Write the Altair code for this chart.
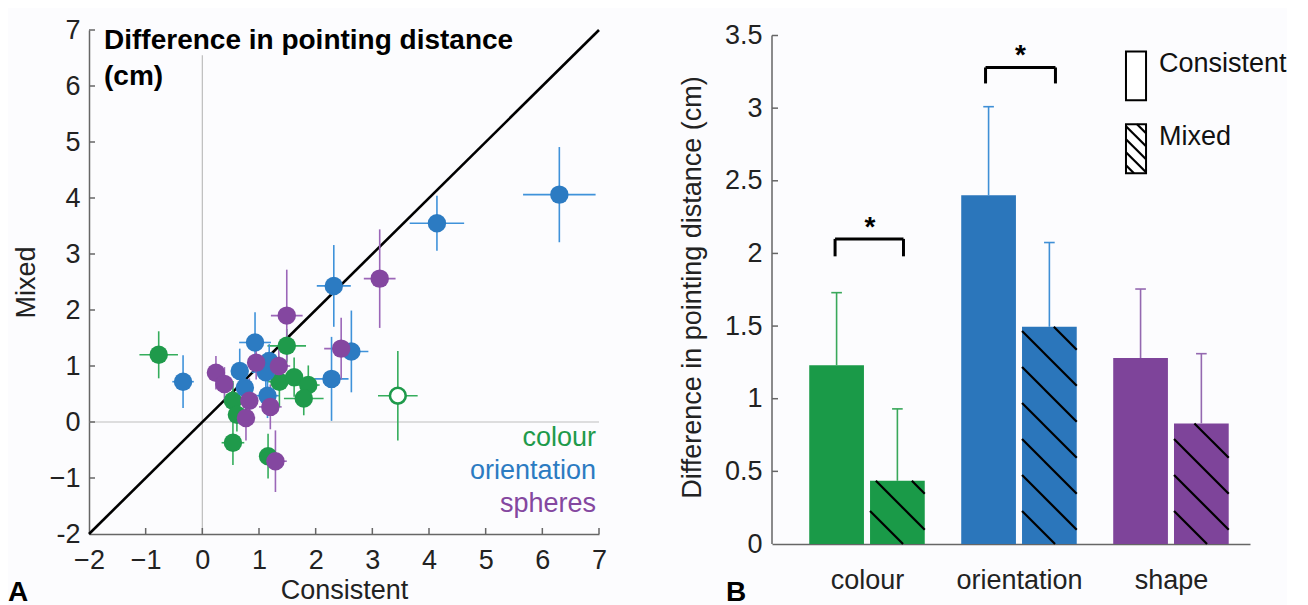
import altair as alt
import pandas as pd

# ---------------- Panel A data (Consistent vs Mixed, with error bars) -------------
colour_x = [-0.77, 0.54, 0.61, 0.54, 1.36, 1.49, 1.62, 1.87, 1.79, 1.16, 3.45]
colour_y = [1.20, 0.38, 0.13, -0.37, 0.72, 1.36, 0.80, 0.66, 0.42, -0.61, 0.47]
colour_xerr = [0.34, 0.15, 0.12, 0.20, 0.20, 0.34, 0.15, 0.20, 0.35, 0.15, 0.35]
colour_yerr = [0.42, 0.35, 0.30, 0.40, 0.45, 0.30, 0.35, 0.35, 0.30, 0.40, 0.80]
colour_filled = [True, True, True, True, True, True, True, True, True, True, False]

orient_x = [-0.34, 0.66, 0.75, 0.93, 1.18, 1.12, 1.15, 2.28, 2.32, 2.63, 4.14, 6.30]
orient_y = [0.72, 0.91, 0.61, 1.42, 1.09, 0.89, 0.47, 0.77, 2.43, 1.26, 3.55, 4.06]
orient_xerr = [0.19, 0.15, 0.15, 0.28, 0.20, 0.25, 0.20, 0.30, 0.30, 0.30, 0.48, 0.64]
orient_yerr = [0.47, 0.40, 0.35, 0.54, 0.30, 0.35, 0.40, 0.75, 0.73, 0.73, 0.49, 0.85]

sphere_x = [0.24, 0.39, 0.77, 0.83, 0.95, 1.35, 1.20, 1.49, 1.29, 2.45, 3.13]
sphere_y = [0.88, 0.68, 0.07, 0.38, 1.06, 1.00, 0.27, 1.90, -0.70, 1.31, 2.56]
sphere_xerr = [0.12, 0.12, 0.15, 0.15, 0.15, 0.20, 0.20, 0.28, 0.20, 0.30, 0.28]
sphere_yerr = [0.30, 0.30, 0.40, 0.40, 0.30, 0.35, 0.40, 0.82, 0.55, 0.55, 0.88]

groups_a = ["colour", "orientation", "spheres"]
colors_a = ["#1f9a4b", "#2c7bc2", "#8447a0"]
errcolors_a = ["#35ad5c", "#3f92da", "#9b66b8"]

# ---------------- Panel B data (bar means and errors) -------------
categories = ["colour", "orientation", "shape"]
consistent_mean = [1.23, 2.40, 1.28]
consistent_err = [0.50, 0.61, 0.475]
mixed_mean = [0.435, 1.495, 0.83]
mixed_err = [0.495, 0.58, 0.48]
bar_colors = ["#1a9a48", "#2b76bb", "#7e449a"]
bar_errcolors = ["#39a85a", "#3f8fd6", "#9468b0"]

FONT = "Liberation Sans"
FS = 27

# ---------------- Panel A -------------
W_A, H_A = 510, 504
xs_a = alt.Scale(domain=[-2, 7], nice=False, zero=False)
ys_a = alt.Scale(domain=[-2, 7], nice=False, zero=False)

AX_XA = alt.Axis(
    title="Consistent", values=list(range(-2, 8)), ticks=False, grid=False,
    labelFontSize=FS, titleFontSize=FS, titleFontWeight="normal", labelFont=FONT, titleFont=FONT,
    labelColor="#222", titleColor="#222", domainColor="#666", domainWidth=1.5,
    labelPadding=13, titlePadding=4, labelFlush=False)
AX_YA = alt.Axis(
    title="Mixed", values=list(range(-2, 8)), ticks=False, grid=False,
    labelExpr="datum.value == -2 ? '-2' : datum.label",
    labelFontSize=FS, titleFontSize=FS, titleFontWeight="normal", labelFont=FONT, titleFont=FONT,
    labelColor="#222", titleColor="#222", domainColor="#666", domainWidth=1.5,
    labelPadding=9, titlePadding=9, labelFlush=False)


def XA(f):
    return alt.X(f, type="quantitative", scale=xs_a, axis=AX_XA)


def YA(f):
    return alt.Y(f, type="quantitative", scale=ys_a, axis=AX_YA)


rows = []
for g, xs, ys, xe, ye in [
    ("colour", colour_x, colour_y, colour_xerr, colour_yerr),
    ("orientation", orient_x, orient_y, orient_xerr, orient_yerr),
    ("spheres", sphere_x, sphere_y, sphere_xerr, sphere_yerr),
]:
    for i in range(len(xs)):
        filled = colour_filled[i] if g == "colour" else True
        rows.append(dict(group=g, x=xs[i], y=ys[i], xlo=xs[i] - xe[i], xhi=xs[i] + xe[i],
                         ylo=ys[i] - ye[i], yhi=ys[i] + ye[i], filled=filled))
df_a = pd.DataFrame(rows)

ref_h = alt.Chart(pd.DataFrame({"x0": [-2], "x1": [7], "y": [0]})).mark_rule(
    color="#bdbdbd", strokeWidth=1.2).encode(x=XA("x0"), x2="x1:Q", y=YA("y"))
ref_v = alt.Chart(pd.DataFrame({"x": [0], "y0": [-2], "y1": [6.55]})).mark_rule(
    color="#bdbdbd", strokeWidth=1.2).encode(x=XA("x"), y=YA("y0"), y2="y1:Q")
diag = alt.Chart(pd.DataFrame({"x0": [-2], "x1": [7]})).mark_rule(
    color="black", strokeWidth=2.6).encode(x=XA("x0"), x2="x1:Q", y=YA("x0"), y2="x1:Q")

tick_x = alt.Chart(pd.DataFrame({"v": list(range(-1, 8))})).mark_rule(
    color="#666", strokeWidth=1.5).encode(x=XA("v"), y=alt.value(H_A), y2=alt.value(H_A - 6))
tick_y = alt.Chart(pd.DataFrame({"v": list(range(-1, 8))})).mark_rule(
    color="#666", strokeWidth=1.5).encode(y=YA("v"), x=alt.value(0), x2=alt.value(6))

base_a = alt.Chart(df_a)
errx = base_a.mark_rule(strokeWidth=1.6).encode(
    x=XA("xlo"), x2="xhi:Q", y=YA("y"),
    color=alt.Color("group:N", scale=alt.Scale(domain=groups_a, range=errcolors_a), legend=None))
erry = base_a.mark_rule(strokeWidth=1.6).encode(
    x=XA("x"), y=YA("ylo"), y2="yhi:Q",
    color=alt.Color("group:N", scale=alt.Scale(domain=groups_a, range=errcolors_a), legend=None))
pts = base_a.transform_filter("datum.filled").mark_circle(size=340, opacity=1).encode(
    x=XA("x"), y=YA("y"),
    color=alt.Color("group:N", scale=alt.Scale(domain=groups_a, range=colors_a), legend=None))
hollow = base_a.transform_filter("!datum.filled").mark_point(
    size=250, filled=True, fill="white", stroke=colors_a[0], strokeWidth=2.6, opacity=1,
    shape="circle").encode(x=XA("x"), y=YA("y"))

title_a = alt.Chart(pd.DataFrame({"t": ["Difference in pointing distance", "(cm)"],
                                  "x": [-1.735, -1.735], "y": [6.661, 6.018]})).mark_text(
    align="left", baseline="alphabetic", font=FONT, fontSize=28, fontWeight="bold",
    color="black").encode(text="t:N", x=XA("x"), y=YA("y"))

leg_a = alt.Chart(pd.DataFrame({"g": groups_a, "x": [6.947] * 3,
                                "y": [-0.429, -1.018, -1.607]})).mark_text(
    align="right", baseline="alphabetic", font=FONT, fontSize=FS).encode(
    text="g:N", x=XA("x"), y=YA("y"),
    color=alt.Color("g:N", scale=alt.Scale(domain=groups_a, range=colors_a), legend=None))

lab_a = alt.Chart(pd.DataFrame({"t": ["A"]})).mark_text(
    align="left", baseline="alphabetic", font=FONT, fontSize=28, fontWeight="bold",
    color="black").encode(text="t:N", x=alt.value(-81), y=alt.value(H_A + 67))

panel_a = alt.layer(ref_h, ref_v, diag, tick_x, tick_y, errx, erry, pts, hollow,
                    title_a, leg_a, lab_a).resolve_scale(color="independent").properties(
    width=W_A, height=H_A)

# ---------------- Panel B -------------
W_B, H_B = 478, 514
XMIN, XMAX = 0.375, 3.52
YTOP = 3.5 * H_B / 508.5
xs_b = alt.Scale(domain=[XMIN, XMAX], nice=False, zero=False)
ys_b = alt.Scale(domain=[0, YTOP], nice=False, zero=False)
ppx = W_B / (XMAX - XMIN)
ppy = H_B / YTOP
OFF, HW, CAP = 0.2, 0.18, 0.035

AX_XB = alt.Axis(
    title=None, values=[1, 2, 3], ticks=False, grid=False,
    labelExpr="['" + "','".join(categories) + "'][datum.value - 1]",
    labelFontSize=FS, labelFont=FONT, labelColor="#222", domainColor="#666", domainWidth=1.5,
    labelPadding=23)
AX_YB = alt.Axis(
    title="Difference in pointing distance (cm)", values=[0, 0.5, 1, 1.5, 2, 2.5, 3, 3.5],
    format="~g", ticks=False, grid=False, domain=False,
    labelFontSize=FS, titleFontSize=FS, titleFontWeight="normal", labelFont=FONT, titleFont=FONT,
    labelColor="#222", titleColor="#222", labelPadding=10, titlePadding=18)


def XB(f):
    return alt.X(f, type="quantitative", scale=xs_b, axis=AX_XB)


def YB(f):
    return alt.Y(f, type="quantitative", scale=ys_b, axis=AX_YB)


def hatch(xl, xr, yb, yt, spacing_px, first_px):
    w = (xr - xl) * ppx
    h = (yt - yb) * ppy
    segs = []
    c = first_px
    while True:
        u0 = max(0.0, c - h)
        u1 = min(w, c)
        if u0 >= w:
            break
        if u1 > u0:
            segs.append((xl + u0 / ppx, yb + (c - u0) / ppy, xl + u1 / ppx, yb + (c - u1) / ppy))
        c += spacing_px
    return segs


bars, errs, caps, hat = [], [], [], []
for i, cat in enumerate(categories):
    cx = i + 1
    for kind, m, e, xc in [("Consistent", consistent_mean[i], consistent_err[i], cx - OFF),
                           ("Mixed", mixed_mean[i], mixed_err[i], cx + OFF)]:
        bars.append(dict(cat=cat, kind=kind, xl=xc - HW, xr=xc + HW, y0=0, y1=m))
        errs.append(dict(cat=cat, x=xc, y0=m, y1=m + e))
        caps.append(dict(cat=cat, xl=xc - CAP, xr=xc + CAP, y=m + e))
        if kind == "Mixed":
            for s in hatch(xc - HW, xc + HW, 0, m, 36, 33):
                hat.append(dict(x0=s[0], y0=s[1], x1=s[2], y1=s[3]))

# legend boxes (in data coordinates)
leg_boxes = pd.DataFrame([dict(xl=2.704, xr=2.836, y0=3.054, y1=3.39),
                          dict(xl=2.704, xr=2.836, y0=2.552, y1=2.889)])
for s in hatch(2.704, 2.836, 2.552, 2.889, 13, 8):
    hat.append(dict(x0=s[0], y0=s[1], x1=s[2], y1=s[3]))

bar_layer = alt.Chart(pd.DataFrame(bars)).mark_rect().encode(
    x=XB("xl"), x2="xr:Q", y=YB("y0"), y2="y1:Q",
    color=alt.Color("cat:N", scale=alt.Scale(domain=categories, range=bar_colors), legend=None))

yaxis_line = alt.Chart(pd.DataFrame({"a": [0], "b": [3.5]})).mark_rule(
    color="#666", strokeWidth=1.5).encode(x=alt.value(0), y=YB("a"), y2="b:Q")
tick_yb = alt.Chart(pd.DataFrame({"v": [0.5, 1, 1.5, 2, 2.5, 3, 3.5]})).mark_rule(
    color="#666", strokeWidth=1.5).encode(y=YB("v"), x=alt.value(0), x2=alt.value(6))

err_layer = alt.Chart(pd.DataFrame(errs)).mark_rule(strokeWidth=1.6).encode(
    x=XB("x"), y=YB("y0"), y2="y1:Q",
    color=alt.Color("cat:N", scale=alt.Scale(domain=categories, range=bar_errcolors), legend=None))
cap_layer = alt.Chart(pd.DataFrame(caps)).mark_rule(strokeWidth=1.6).encode(
    x=XB("xl"), x2="xr:Q", y=YB("y"),
    color=alt.Color("cat:N", scale=alt.Scale(domain=categories, range=bar_errcolors), legend=None))

leg_box_layer = alt.Chart(leg_boxes).mark_rect(fill="white", stroke="black", strokeWidth=2).encode(
    x=XB("xl"), x2="xr:Q", y=YB("y0"), y2="y1:Q")

hat_layer = alt.Chart(pd.DataFrame(hat)).mark_rule(color="black", strokeWidth=2.2).encode(
    x=XB("x0"), x2="x1:Q", y=YB("y0"), y2="y1:Q")

leg_text = alt.Chart(pd.DataFrame({"t": ["Consistent", "Mixed"], "x": [2.921, 2.921],
                                   "y": [3.246, 2.744]})).mark_text(
    align="left", baseline="alphabetic", font=FONT, fontSize=FS, color="#111").encode(
    text="t:N", x=XB("x"), y=YB("y"))

# significance brackets
br = []
for (xa, xb, yt, yl) in [(0.79, 1.24, 2.10, 1.98), (1.78, 2.24, 3.28, 3.17)]:
    br.append(dict(x0=xa, x1=xb, y0=yt, y1=yt))
    br.append(dict(x0=xa, x1=xa, y0=yt, y1=yl))
    br.append(dict(x0=xb, x1=xb, y0=yt, y1=yl))
br_layer = alt.Chart(pd.DataFrame(br)).mark_rule(color="black", strokeWidth=3).encode(
    x=XB("x0"), x2="x1:Q", y=YB("y0"), y2="y1:Q")
stars = alt.Chart(pd.DataFrame({"t": ["*", "*"], "x": [1.02, 2.01], "y": [2.10, 3.28]})).mark_text(
    align="center", baseline="alphabetic", font=FONT, fontSize=28, fontWeight="bold",
    color="black", dy=-3).encode(text="t:N", x=XB("x"), y=YB("y"))

lab_b = alt.Chart(pd.DataFrame({"t": ["B"]})).mark_text(
    align="left", baseline="alphabetic", font=FONT, fontSize=28, fontWeight="bold",
    color="black").encode(text="t:N", x=alt.value(-46), y=alt.value(H_B + 57))

panel_b = alt.layer(bar_layer, yaxis_line, tick_yb, err_layer, cap_layer, leg_box_layer,
                    hat_layer, leg_text, br_layer, stars, lab_b).resolve_scale(
    color="independent").properties(width=W_B, height=H_B)

chart = alt.hconcat(panel_a, panel_b, spacing=71).properties(
    padding={"left": 0, "top": 8, "right": 0, "bottom": 0},
    background="#fcfcfe",
).configure_view(stroke=None)

chart.save("out.html", embed_options={"renderer": "svg", "actions": False})
